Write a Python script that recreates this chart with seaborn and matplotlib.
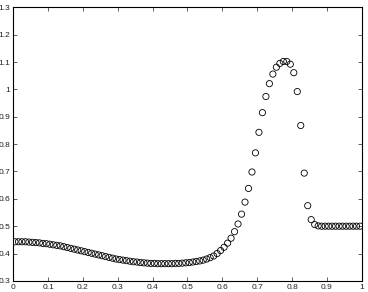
import numpy as np
import pandas as pd
import seaborn as sns
import matplotlib
matplotlib.use('Agg')
import matplotlib.pyplot as plt
from matplotlib.ticker import FormatStrFormatter

# sample positions (cell centres) and values
x_vals = [round(0.005 + 0.01 * i, 3) for i in range(100)]
y_vals = [
    0.443, 0.443, 0.443, 0.443, 0.442, 0.441, 0.440, 0.439, 0.437, 0.436,
    0.434, 0.432, 0.430, 0.428, 0.425, 0.422, 0.419, 0.416, 0.413, 0.410,
    0.407, 0.404, 0.401, 0.398, 0.395, 0.392, 0.389, 0.386, 0.383, 0.380,
    0.378, 0.376, 0.374, 0.372, 0.370, 0.369, 0.367, 0.366, 0.365, 0.364,
    0.364, 0.363, 0.363, 0.363, 0.363, 0.363, 0.364, 0.364, 0.365, 0.366,
    0.367, 0.369, 0.371, 0.373, 0.376, 0.380, 0.385, 0.391, 0.400, 0.411,
    0.423, 0.438, 0.456, 0.480, 0.508, 0.544, 0.588, 0.638, 0.698, 0.768,
    0.843, 0.915, 0.974, 1.021, 1.056, 1.081, 1.095, 1.102, 1.102, 1.092,
    1.061, 0.992, 0.868, 0.694, 0.575, 0.524, 0.506, 0.501, 0.500, 0.500,
    0.500, 0.500, 0.500, 0.500, 0.500, 0.500, 0.500, 0.500, 0.500, 0.500,
]
x_ticks = [0, 0.1, 0.2, 0.3, 0.4, 0.5, 0.6, 0.7, 0.8, 0.9, 1]
y_ticks = [0.3, 0.4, 0.5, 0.6, 0.7, 0.8, 0.9, 1, 1.1, 1.2, 1.3]

df = pd.DataFrame({'x': x_vals, 'y': y_vals})

sns.set_style('ticks')
plt.rcParams['font.family'] = ['Liberation Sans', 'DejaVu Sans']

fig = plt.figure(figsize=(3.68, 2.92), dpi=100)
ax = fig.add_axes([0.036, 0.038, 0.947, 0.937])
sns.scatterplot(x='x', y='y', data=df, ax=ax, marker='o', s=20,
                facecolor='none', edgecolor='black', linewidth=0.6)

ax.set_xlim(0, 1)
ax.set_ylim(0.3, 1.3)
ax.set_xticks(x_ticks)
ax.set_yticks(y_ticks)
ax.xaxis.set_major_formatter(FormatStrFormatter('%g'))
ax.yaxis.set_major_formatter(FormatStrFormatter('%g'))
ax.tick_params(direction='in', length=3, width=0.5, labelsize=6, pad=2,
               top=True, right=True, colors='#222222')
ax.set_xlabel('')
ax.set_ylabel('')
for s in ax.spines.values():
    s.set_visible(True)
    s.set_linewidth(0.8)
    s.set_color('black')

fig.savefig('out.png', dpi=100)
